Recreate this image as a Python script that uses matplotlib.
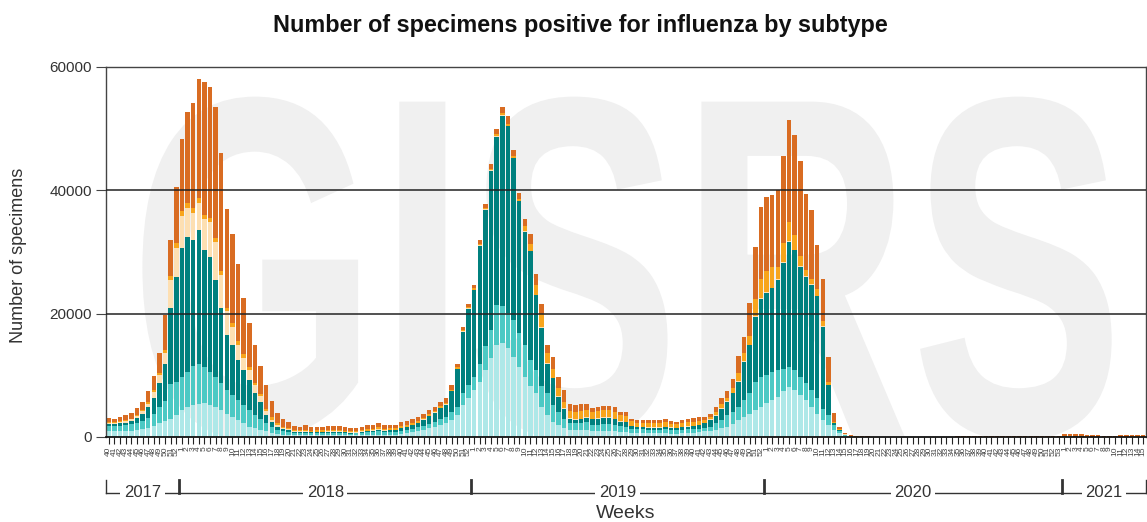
import matplotlib
matplotlib.use('Agg')
import matplotlib.pyplot as plt
import numpy as np
from matplotlib.textpath import TextPath
from matplotlib.patches import PathPatch
from matplotlib.font_manager import FontProperties
from matplotlib.transforms import Affine2D, blended_transform_factory

plt.rcParams['font.family'] = ['Liberation Sans', 'DejaVu Sans']

# ---------------- data ----------------
year_spans = [(2017, 40, 52), (2018, 1, 52), (2019, 1, 52), (2020, 1, 53), (2021, 1, 15)]
week_labels = []
for yr, w0, w1 in year_spans:
    week_labels += [str(w) for w in range(w0, w1 + 1)]

series_names = ["A(H1N1)pdm09", "A(H3)", "A (not subtyped)",
                "B (Victoria)", "B (Yamagata)", "B (lineage not determined)"]
series_colors = ["#aee8e8", "#4cc9c4", "#00807e", "#fddfb2", "#f8a51c", "#d96c22"]

h1n1 = [900, 900, 900, 950, 1000, 1100, 1250, 1500, 1800, 2200, 2600, 3000, 3500, 4300, 4800, 5200, 5400, 5500, 5200, 4900,
        4400, 3800, 3300, 2800, 2200, 1700, 1400, 1100, 900, 600, 500, 400, 350, 300, 250, 250, 250, 250, 250, 250,
        300, 300, 250, 250, 250, 300, 350, 350, 400, 350, 400, 400, 550, 650, 800, 950, 1150, 1400, 1600, 1900,
        2200, 2750, 3600, 5200, 6300, 7600, 9000, 10900, 12800, 14900, 15300, 14400, 13000, 11400, 9800, 8200, 7100, 4900, 3600, 2500,
        1900, 1400, 1100, 1100, 1100, 1100, 900, 900, 900, 900, 900, 800, 800, 650, 600, 600, 600, 600, 600, 600,
        550, 550, 600, 650, 700, 800, 900, 1000, 1100, 1400, 1700, 2100, 2750, 3300, 3800, 4400, 4900, 5500, 6000, 6500,
        7400, 8100, 7600, 6800, 6000, 4900, 3800, 2750, 1900, 1100, 600, 200, 60, 30, 10, 8, 5, 5, 5, 5,
        5, 5, 5, 5, 5, 5, 5, 5, 5, 5, 5, 5, 5, 5, 8, 8, 8, 8, 10, 10,
        10, 10, 10, 12, 12, 15, 15, 15, 20, 20, 40, 50, 45, 40, 35, 30, 25, 20, 20, 20,
        25, 30, 35, 30, 30]

h3 = [850, 850, 900, 950, 1050, 1200, 1400, 1600, 2000, 2600, 3300, 5600, 5400, 5400, 5800, 6300, 6400, 5900, 5400, 4900,
      4300, 3800, 3500, 3200, 3000, 2700, 2200, 1900, 1300, 1100, 600, 500, 450, 350, 350, 400, 350, 350, 350, 400,
      400, 400, 350, 300, 350, 400, 450, 450, 500, 450, 450, 450, 500, 500, 550, 600, 700, 750, 800, 950,
      1100, 1350, 1300, 1900, 2100, 2200, 2900, 3800, 4600, 6500, 5900, 5700, 6000, 5400, 5100, 4300, 3800, 3300, 3500, 2700,
      2200, 1600, 1100, 1100, 1200, 1300, 1100, 1100, 1200, 1200, 1100, 1000, 900, 700, 650, 650, 600, 600, 600, 650,
      600, 550, 600, 600, 550, 500, 500, 700, 1100, 1350, 1900, 2000, 2150, 2700, 3300, 4600, 4900, 4600, 4600, 4300,
      3600, 3300, 3300, 3000, 2800, 2700, 2500, 1850, 1700, 800, 300, 100, 50, 20, 8, 5, 5, 5, 5, 5,
      5, 5, 5, 5, 5, 5, 5, 5, 5, 5, 5, 5, 5, 5, 5, 5, 8, 8, 8, 10,
      10, 10, 10, 10, 12, 12, 12, 15, 15, 15, 30, 35, 30, 30, 25, 20, 20, 15, 15, 15,
      20, 20, 25, 25, 20]

a_nst = [350, 350, 400, 450, 550, 750, 1100, 1700, 2600, 4000, 6000, 12400, 17100, 20900, 21900, 20500, 21800, 18900, 18600, 15700,
         12200, 8900, 8100, 6500, 5700, 4800, 3500, 2700, 1400, 800, 600, 400, 300, 200, 200, 200, 150, 150, 150, 150,
         150, 150, 150, 100, 100, 150, 150, 200, 250, 200, 250, 250, 350, 450, 550, 700, 900, 1200, 1500, 1800,
         1900, 3300, 6100, 10000, 12400, 14000, 19100, 22100, 25800, 27300, 30900, 30300, 26200, 21400, 18400, 17600, 12100, 9500, 4800, 4300,
         2400, 1600, 800, 600, 600, 700, 900, 1000, 1000, 1000, 900, 700, 700, 400, 300, 300, 300, 300, 300, 350,
         300, 300, 350, 450, 500, 600, 800, 1050, 1200, 1850, 2100, 3000, 4100, 6200, 7800, 10500, 12600, 13300, 13500, 14700,
         17200, 20300, 19400, 17800, 17200, 17100, 16500, 13300, 4800, 300, 200, 100, 40, 20, 5, 5, 3, 3, 3, 3,
         3, 3, 3, 3, 3, 3, 3, 3, 3, 3, 3, 3, 3, 3, 3, 3, 5, 5, 5, 5,
         5, 5, 5, 5, 5, 5, 5, 5, 8, 8, 15, 20, 20, 15, 15, 10, 10, 10, 10, 10,
         10, 15, 15, 15, 10]

b_vic = [200, 200, 200, 250, 250, 300, 400, 600, 900, 1200, 1800, 4400, 4700, 5300, 4700, 4400, 4400, 5000, 5600, 6100,
         5400, 3900, 3000, 2400, 1900, 1600, 1300, 900, 600, 300, 250, 150, 150, 100, 100, 100, 100, 100, 100, 100,
         100, 100, 100, 100, 100, 100, 100, 100, 100, 100, 100, 100, 100, 100, 100, 100, 100, 100, 100, 100,
         100, 100, 100, 100, 100, 100, 100, 100, 100, 100, 100, 100, 100, 100, 100, 100, 100, 100, 100, 100,
         100, 100, 100, 100, 100, 100, 100, 100, 100, 100, 100, 100, 100, 100, 100, 100, 100, 100, 100, 100,
         100, 100, 100, 100, 100, 100, 100, 100, 100, 100, 100, 100, 100, 100, 100, 100, 100, 100, 100, 100,
         100, 100, 100, 100, 100, 100, 100, 100, 100, 100, 50, 20, 10, 0, 0, 0, 0, 0, 0, 0,
         0, 0, 0, 0, 0, 0, 0, 0, 0, 0, 0, 0, 0, 0, 0, 0, 0, 0, 0, 0,
         0, 0, 0, 0, 0, 0, 0, 0, 0, 0, 0, 0, 0, 0, 0, 0, 0, 0, 0, 0,
         0, 0, 0, 0, 0]

b_yam = [150, 150, 150, 150, 150, 200, 250, 300, 300, 350, 400, 700, 700, 700, 700, 700, 700, 700, 700, 700,
         700, 600, 600, 600, 600, 600, 400, 400, 400, 400, 250, 250, 250, 200, 200, 250, 200, 250, 250, 250,
         250, 250, 200, 200, 200, 200, 250, 250, 300, 250, 250, 250, 250, 250, 250, 250, 250, 250, 200, 200,
         200, 200, 200, 200, 200, 200, 200, 200, 200, 300, 300, 300, 300, 300, 800, 1100, 1600, 2200, 1600, 1500,
         1300, 1000, 1100, 1100, 1200, 1100, 1000, 1100, 1100, 1100, 1100, 900, 900, 700, 650, 650, 700, 700, 700, 700,
         600, 550, 600, 650, 650, 600, 400, 400, 500, 600, 600, 800, 1200, 1300, 1400, 2800, 3100, 3400, 3300, 1900,
         3200, 3000, 2400, 1600, 1000, 900, 1100, 800, 400, 200, 100, 50, 30, 20, 5, 5, 5, 5, 5, 5,
         5, 5, 5, 5, 5, 5, 5, 5, 5, 5, 5, 5, 5, 5, 5, 5, 5, 5, 5, 5,
         5, 5, 5, 5, 5, 5, 5, 5, 5, 5, 20, 25, 25, 20, 20, 15, 15, 10, 10, 10,
         15, 15, 20, 20, 15]

b_nd = [600, 550, 650, 750, 900, 1150, 1300, 1700, 2300, 3250, 5700, 5800, 9200, 11800, 14800, 17000, 19300, 21600, 21300, 21200,
        19000, 16000, 14500, 12500, 9100, 7100, 6200, 4500, 3900, 2600, 1700, 1300, 900, 650, 600, 700, 550, 600, 600, 650,
        600, 600, 550, 450, 500, 550, 600, 550, 650, 550, 550, 550, 650, 650, 650, 700, 700, 700, 700, 750,
        800, 700, 600, 500, 500, 600, 700, 700, 800, 900, 1000, 1300, 1000, 1000, 1200, 1700, 1800, 1600, 1300, 1900,
        1800, 1900, 1200, 1200, 1200, 1100, 750, 700, 700, 700, 700, 600, 600, 450, 450, 450, 450, 450, 450, 500,
        450, 450, 500, 550, 600, 600, 600, 550, 800, 1100, 1100, 1400, 2800, 2600, 5400, 8400, 11700, 12000, 11700, 12600,
        14100, 16600, 16100, 15500, 12300, 11100, 7100, 6800, 4000, 1400, 450, 130, 110, 60, 90, 70, 60, 50, 50, 50,
        50, 50, 50, 50, 50, 50, 60, 60, 60, 60, 60, 70, 70, 70, 70, 80, 80, 80, 90, 90,
        100, 100, 100, 110, 110, 120, 130, 140, 150, 160, 350, 400, 380, 350, 300, 250, 200, 150, 150, 150,
        200, 250, 300, 280, 250]

series = [h1n1, h3, a_nst, b_vic, b_yam, b_nd]
n = len(week_labels)
for s in series:
    assert len(s) == n, (len(s), n)

# ---------------- figure ----------------
fig = plt.figure(figsize=(11.47, 5.22), dpi=100)
ax = fig.add_axes([106 / 1147, 85 / 522, 1040 / 1147, 370 / 522])

x = np.arange(n)

# watermark
fp = FontProperties(family='Liberation Sans', weight='bold')
tp = TextPath((0, 0), "GISRS", size=1, prop=fp)
ext = tp.get_extents()
wm_tr = (Affine2D().translate(-ext.x0, -ext.y0)
         .scale(0.932 / ext.width, 0.93 / ext.height)
         .translate(0.035, -0.01))
ax.add_patch(PathPatch(tp, facecolor='#f0f0f0', edgecolor='none',
                       transform=wm_tr + ax.transAxes, zorder=0))

bottom = np.zeros(n)
for vals, name, col in zip(series, series_names, series_colors):
    v = np.array(vals, dtype=float)
    ax.bar(x, v, bottom=bottom, width=0.8, color=col, linewidth=0, label=name, zorder=2)
    bottom += v

ax.set_xlim(-0.5, n - 0.5)
ax.set_ylim(0, 60000)
ax.set_yticks([0, 20000, 40000, 60000])
ax.set_yticklabels(['0', '20000', '40000', '60000'])
for yv in [20000, 40000]:
    ax.axhline(yv, color='#222222', lw=1.1, zorder=3)

ax.set_xticks(x)
ax.set_xticklabels(week_labels, rotation=90, fontsize=6, color='#444444')
ax.tick_params(axis='x', length=5, width=0.8, color='#222222', pad=2)
ax.tick_params(axis='y', length=7, width=0.8, color='#444444', labelsize=11, labelcolor='#333333', pad=3)

for sp in ['left', 'top', 'right']:
    ax.spines[sp].set_color('#444444')
    ax.spines[sp].set_linewidth(1.0)
ax.spines['bottom'].set_color('#111111')
ax.spines['bottom'].set_linewidth(1.3)

# year axis
trans = blended_transform_factory(ax.transData, ax.transAxes)
line_y = -0.151
tick_top = -0.116
ax.plot([-0.5, n - 0.5], [line_y, line_y], transform=trans, color='#333333', lw=1, clip_on=False)
idx = 0
bounds = []
for yr, w0, w1 in year_spans:
    cnt = w1 - w0 + 1
    a, b = idx - 0.5, idx + cnt - 0.5
    ax.text((a + b) / 2, line_y, str(yr), transform=trans, ha='center', va='center',
            fontsize=12, color='#333333',
            bbox=dict(facecolor='white', edgecolor='none', pad=2.5), clip_on=False)
    bounds.append(a)
    idx += cnt
for k, bx in enumerate(bounds):
    lw = 1.0 if k == 0 else 2.0
    ax.plot([bx, bx], [line_y, tick_top], transform=trans, color='#333333', lw=lw, clip_on=False)
ax.plot([n - 0.5, n - 0.5], [line_y, tick_top], transform=trans, color='#333333', lw=1.0, clip_on=False)

ax.text(0.5, -0.208, "Weeks", transform=ax.transAxes, ha='center', va='center', fontsize=14, color='#333333')
fig.text(0.016, 0.51, "Number of specimens", rotation=90, ha='center', va='center', fontsize=13, color='#333333')
fig.text(0.506, 0.952, "Number of specimens positive for influenza by subtype", ha='center', va='center',
         fontsize=16.8, fontweight='bold', color='#111111')

fig.savefig('out.png', dpi=100)
